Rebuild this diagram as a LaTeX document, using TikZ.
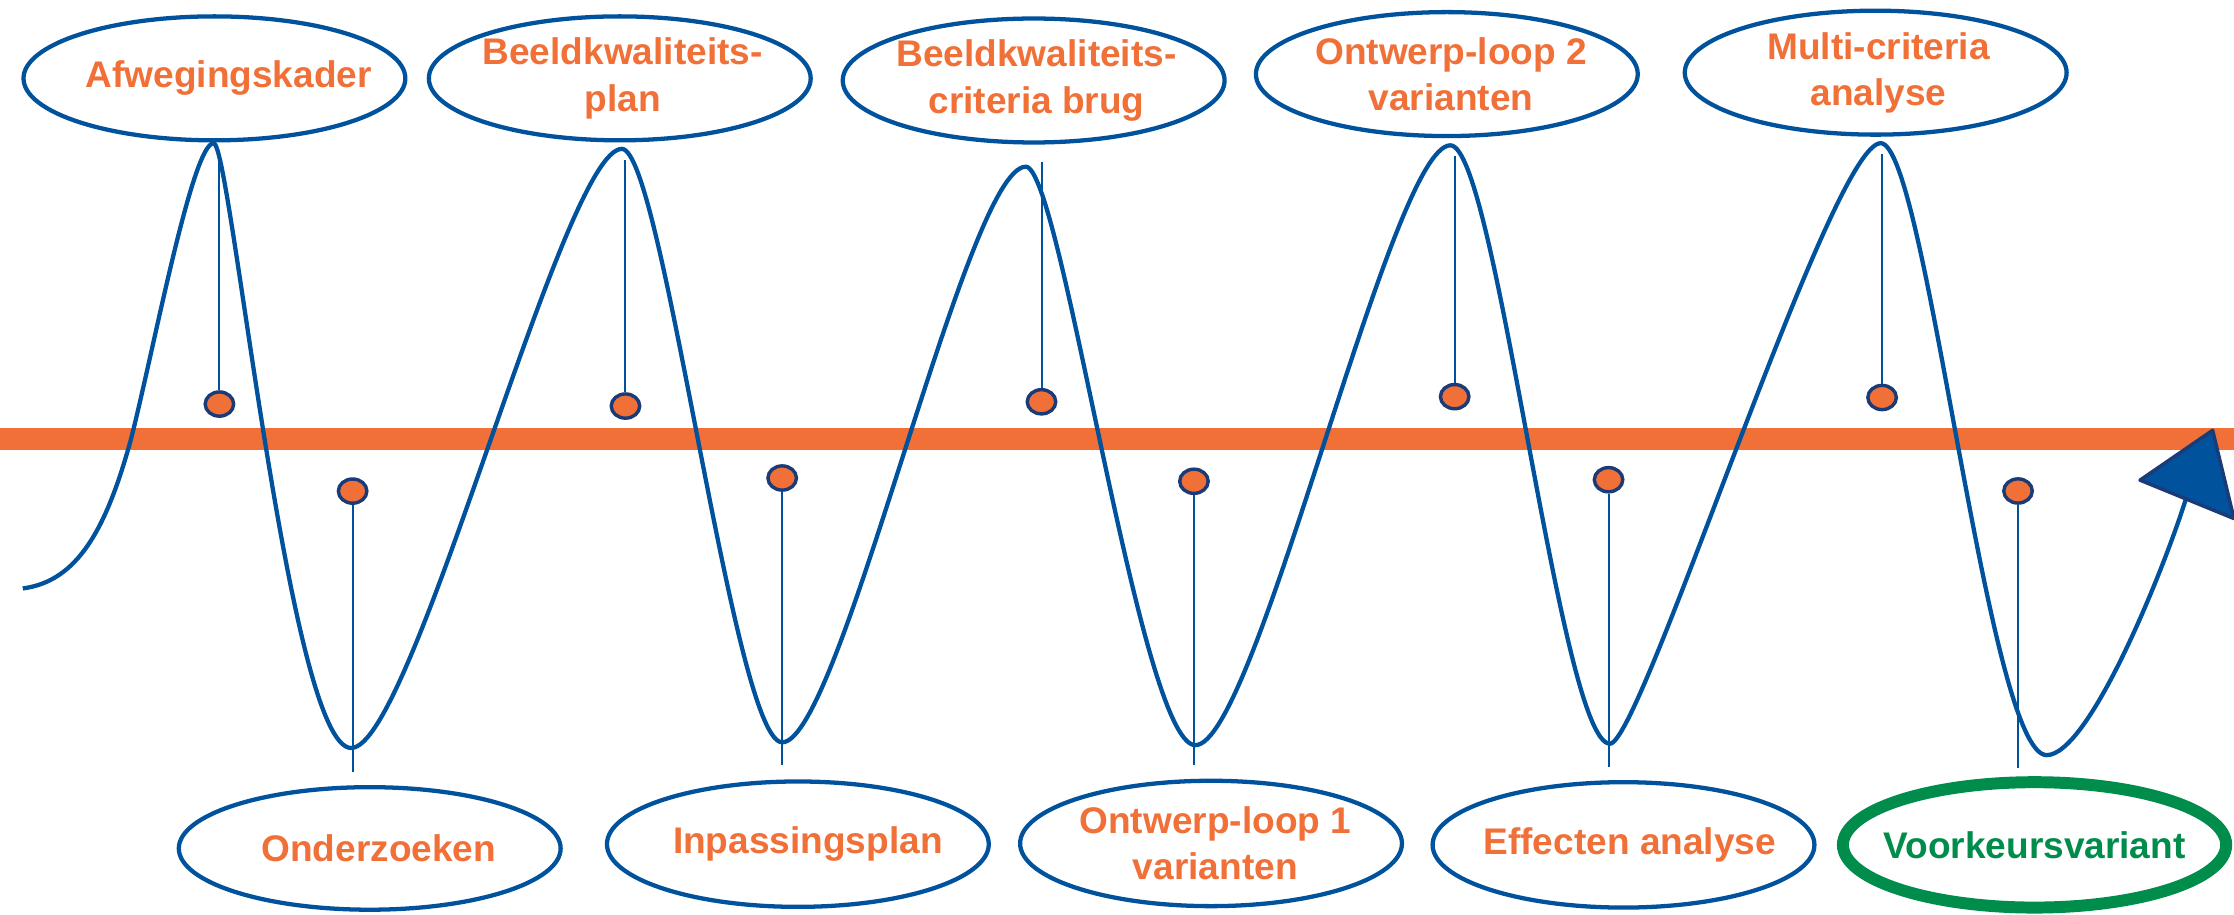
\documentclass[tikz,border=0pt]{standalone}
\usepackage{fontspec}
\setmainfont{Liberation Sans}
\usetikzlibrary{shapes.geometric}
\definecolor{orng}{HTML}{F07038}
\definecolor{blu}{HTML}{00529C}
\definecolor{dblu}{HTML}{1A3A78}
\definecolor{grn}{HTML}{008C4A}
\tikzset{
 oval/.style={ellipse, draw=blu, line width=1.5pt, inner sep=0pt, minimum width=134pt, minimum height=43.5pt},
 txt/.style={inner sep=0pt, font=\fontsize{13}{16.2}\selectfont\bfseries, text=orng, align=center},
 dot/.style={ellipse, draw=dblu, fill=orng, line width=1.2pt, minimum width=10pt, minimum height=8.5pt, inner sep=0pt},
 stem/.style={draw=blu, line width=0.7pt},
 wave/.style={draw=blu, line width=1.5pt},
}
\begin{document}
\begin{tikzpicture}[x=0.5pt,y=-0.5pt]
\useasboundingbox (0,0) rectangle (1568,642);
\fill[white] (0,0) rectangle (1568,642);
% timeline bar
\draw[orng, line width=7.6pt] (0,308.3) -- (1568,308.3);
% wave
\draw[wave] (16,413) .. controls (55,408) and (75,370) .. (92,308)
  .. controls (108,245) and (135,100.5) .. (150,100.5)
  .. controls (162,100.5) and (203,525) .. (246.5,525)
  .. controls (290,525) and (395,104.5) .. (436.5,104.5)
  .. controls (465,104.5) and (515,521) .. (549,521)
  .. controls (590,521) and (678,117) .. (720,117)
  .. controls (745,117) and (800,523) .. (839,523)
  .. controls (882,523) and (976,102) .. (1018,102)
  .. controls (1050,102) and (1095,522) .. (1130,522)
  .. controls (1152,522) and (1285,100.5) .. (1320,100.5)
  .. controls (1352,100.5) and (1395,530) .. (1436.5,530)
  .. controls (1465,530) and (1515,410) .. (1534,351);
% arrow head
\filldraw[fill=blu, draw=dblu, line width=1.2pt, line join=round] (1502,337) -- (1553,302) -- (1568,364) -- cycle;
% upper stems
\foreach \i/\x/\y/\t in {1/154/283.6/112, 2/439/285/112, 3/731/282/114, 4/1021/278.4/109.5, 5/1321/279/108}{
  \coordinate (ut\i) at (\x,\t);
  \node[dot] (ud\i) at (\x,\y) {};
  \draw[stem] (ud\i.north) -- (ut\i);
}
% lower stems
\foreach \i/\x/\y/\b in {1/247.5/344.7/542, 2/549/335.5/537, 3/838/337.8/537, 4/1129/336.7/538, 5/1416.4/344.6/539}{
  \coordinate (lb\i) at (\x,\b);
  \node[dot] (ld\i) at (\x,\y) {};
  \draw[stem] (ld\i.south) -- (lb\i);
}
% top labels
\node[oval] (t1) at (150.5,55) {};
\node[oval] (t2) at (435,55) {};
\node[oval] (t3) at (725.5,56.5) {};
\node[oval] (t4) at (1015.5,52) {};
\node[oval] (t5) at (1316.5,51) {};
\node[txt] (t1l) at ([xshift=5pt]t1.center) {Afwegingskader};
\node[txt] (t2l) at ([xshift=1pt]t2.center) {Beeldkwaliteits-\\plan};
\node[txt] (t3l) at ([xshift=1pt]t3.center) {Beeldkwaliteits-\\criteria brug};
\node[txt] (t4l) at ([xshift=1.5pt]t4.center) {Ontwerp-loop 2\\varianten};
\node[txt] (t5l) at ([xshift=1pt]t5.center) {Multi-criteria\\analyse};
% bottom labels
\node[oval, minimum height=43pt] (b1) at (259.5,595.5) {};
\node[oval, minimum height=44pt] (b2) at (560,592.5) {};
\node[oval, minimum height=44pt] (b3) at (850,592) {};
\node[oval, minimum height=44pt] (b4) at (1139.5,593) {};
\node[oval, minimum width=134.5pt, minimum height=44pt, draw=grn, line width=4.2pt] (b5) at (1428,593) {};
\node[txt] (b1l) at ([xshift=3.2pt]b1.center) {Onderzoeken};
\node[txt] (b2l) at ([xshift=3.5pt]b2.center) {Inpassingsplan};
\node[txt] (b3l) at ([xshift=1.5pt]b3.center) {Ontwerp-loop 1\\varianten};
\node[txt] (b4l) at ([xshift=2.2pt]b4.center) {Effecten analyse};
\node[txt, text=grn] (b5l) at (b5) {Voorkeursvariant};
\end{tikzpicture}
\end{document}
